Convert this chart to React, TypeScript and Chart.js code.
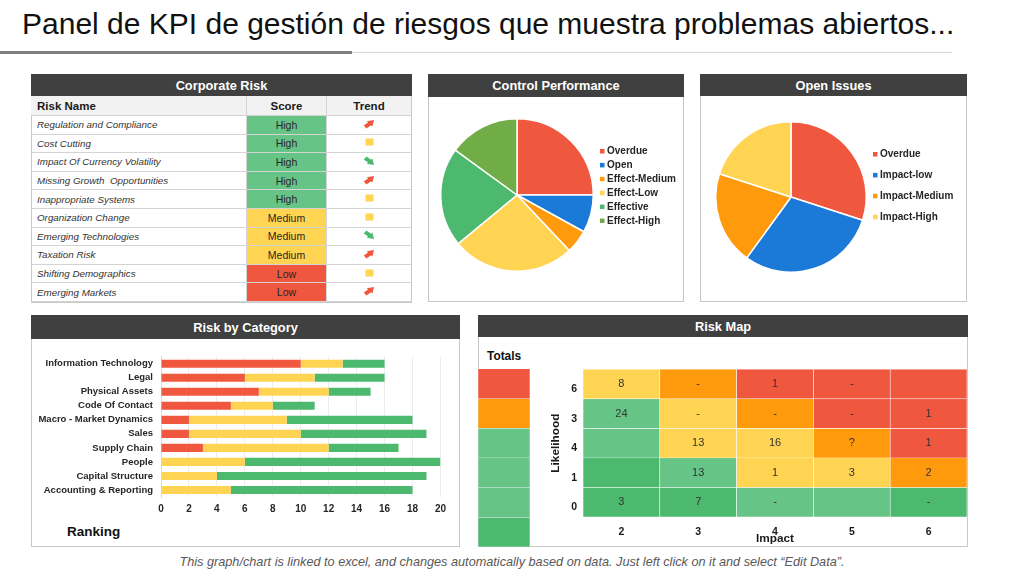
import React, { useEffect, useRef } from "react";
import { Chart, registerables } from "chart.js";

Chart.register(...registerables);

const FONT = '"Liberation Sans", Arial, sans-serif';
Chart.defaults.font.family = FONT;

const RED = "#F0573F";
const ORANGE = "#FF9A0D";
const YELLOW = "#FFD453";
const LGREEN = "#67C487";
const GREEN = "#4DB96F";
const BLUE = "#1B79D7";
const OLIVE = "#70AD47";

const LEVEL_COLOR: Record<string, string> = { r: RED, o: ORANGE, y: YELLOW, lg: LGREEN, g: GREEN };
const SCORE_COLOR: Record<string, string> = { High: LGREEN, Medium: YELLOW, Low: RED };

// ---------- Corporate Risk ----------
const riskNames = [
  "Regulation and Compliance",
  "Cost Cutting",
  "Impact Of Currency Volatility",
  "Missing Growth  Opportunities",
  "Inappropriate Systems",
  "Organization Change",
  "Emerging Technologies",
  "Taxation Risk",
  "Shifting Demographics",
  "Emerging Markets",
];
const riskScores = ["High", "High", "High", "High", "High", "Medium", "Medium", "Medium", "Low", "Low"];
const riskTrends = ["up", "flat", "down", "up", "flat", "flat", "down", "up", "flat", "up"];

// ---------- Control Performance ----------
const controlLabels = ["Overdue", "Open", "Effect-Medium", "Effect-Low", "Effective", "Effect-High"];
const controlValues = [25, 8, 5, 26, 21, 15];
const controlColors = [RED, BLUE, ORANGE, YELLOW, GREEN, OLIVE];

// ---------- Open Issues ----------
const issueLabels = ["Overdue", "Impact-low", "Impact-Medium", "Impact-High"];
const issueValues = [30, 30, 20, 20];
const issueColors = [RED, BLUE, ORANGE, YELLOW];

// ---------- Risk by Category ----------
const categories = [
  "Information Technology",
  "Legal",
  "Physical Assets",
  "Code Of Contact",
  "Macro - Market Dynamics",
  "Sales",
  "Supply Chain",
  "People",
  "Capital Structure",
  "Accounting & Reporting",
];
const highRisk = [10, 6, 7, 5, 2, 2, 3, 0, 0, 0];
const mediumRisk = [3, 5, 5, 3, 7, 8, 9, 6, 4, 5];
const lowRisk = [3, 5, 3, 3, 9, 9, 5, 14, 15, 13];
const rankingMax = 20;
const rankingStep = 2;

// ---------- Risk Map ----------
const impactLabels = ["2", "3", "4", "5", "6"];
const likelihoodLabels = ["6", "3", "4", "1", "0"]; // top to bottom
const mapValues = [
  ["8", "-", "1", "-", ""],
  ["24", "-", "-", "-", "1"],
  ["", "13", "16", "?", "1"],
  ["", "13", "1", "3", "2"],
  ["3", "7", "-", "", "-"],
];
const mapLevels = [
  ["y", "o", "r", "r", "r"],
  ["lg", "y", "o", "r", "r"],
  ["lg", "y", "y", "o", "r"],
  ["g", "lg", "y", "y", "o"],
  ["g", "g", "lg", "lg", "g"],
];
const totalsLevels = ["r", "o", "lg", "lg", "lg", "g"];

// ---------- helpers ----------
function useChart(ref: React.RefObject<HTMLCanvasElement | null>, make: () => any) {
  useEffect(() => {
    if (!ref.current) return;
    const c = new Chart(ref.current, make());
    return () => c.destroy();
  }, []);
}

const sideLegend = {
  id: "sideLegend",
  afterDraw(chart: any, _args: any, opts: any) {
    if (!opts || !opts.display) return;
    const ctx = chart.ctx;
    const labels = chart.data.labels as string[];
    const colors = chart.data.datasets[0].backgroundColor as string[];
    ctx.save();
    ctx.font = `bold ${opts.fontSize}px ${FONT}`;
    ctx.textBaseline = "middle";
    ctx.textAlign = "left";
    labels.forEach((l, i) => {
      const cy = opts.y + i * opts.gap;
      ctx.fillStyle = colors[i];
      ctx.fillRect(opts.x, cy - 2, 4.5, 4.5);
      ctx.fillStyle = "#262626";
      ctx.fillText(l, opts.x + 7, cy + 0.5);
    });
    ctx.restore();
  },
};

const cellTextPlugin = {
  id: "cellText",
  afterDatasetsDraw(chart: any) {
    const ctx = chart.ctx;
    chart.data.datasets.forEach((_ds: any, di: number) => {
      const meta = chart.getDatasetMeta(di);
      meta.data.forEach((el: any, i: number) => {
        const txt = mapValues[di][i];
        if (!txt) return;
        const { x, y, base } = el.getProps(["x", "y", "base"], true);
        ctx.save();
        ctx.font = `11px ${FONT}`;
        ctx.fillStyle = "#333333";
        ctx.textAlign = "center";
        ctx.textBaseline = "middle";
        ctx.fillText(txt, x, (y + base) / 2);
        ctx.restore();
      });
    });
  },
};

function Panel({ x, y, w, h, head, title }: any) {
  return (
    <>
      <div
        style={{
          position: "absolute",
          left: x,
          top: y,
          width: w,
          height: h,
          border: "1px solid #c8c8c8",
          boxSizing: "border-box",
          background: "#fff",
        }}
      />
      <div
        style={{
          position: "absolute",
          left: x,
          top: y,
          width: w,
          height: head,
          background: "#404040",
          color: "#fff",
          font: `bold 12.8px ${FONT}`,
          display: "flex",
          alignItems: "center",
          justifyContent: "center",
        }}
      >
        {title}
      </div>
    </>
  );
}

function TrendIcon({ t }: { t: string }) {
  if (t === "flat")
    return (
      <svg width="9" height="8" viewBox="0 0 9 8">
        <rect x="0.5" y="0.5" width="8" height="7" fill={YELLOW} />
      </svg>
    );
  const color = t === "up" ? RED : GREEN;
  const tr = t === "up" ? "" : "translate(0,10) scale(1,-1)";
  return (
    <svg width="12" height="10" viewBox="0 0 12 10">
      <g transform={tr}>
        <path d="M0.8 6.6 L5 3.6 L3.8 2.2 L11 1 L9.4 7.6 L8.1 6.2 L3.4 9.4 Z" fill={color} />
      </g>
    </svg>
  );
}

function CorporateTable() {
  const cols = [216, 80, 84];
  const cellBase: React.CSSProperties = {
    boxSizing: "border-box",
    borderRight: "1px solid #d4d4d4",
    borderBottom: "1px solid #d4d4d4",
    display: "flex",
    alignItems: "center",
  };
  return (
    <div style={{ position: "absolute", left: 31, top: 96, width: 380 }}>
      <div style={{ display: "flex", height: 20, background: "#f2f2f2" }}>
        {["Risk Name", "Score", "Trend"].map((h, i) => (
          <div
            key={h}
            style={{
              ...cellBase,
              width: cols[i],
              justifyContent: i === 0 ? "flex-start" : "center",
              paddingLeft: i === 0 ? 6 : 0,
              font: `bold 11.5px ${FONT}`,
              color: "#1a1a1a",
              borderRight: i === 2 ? "none" : cellBase.borderRight,
            }}
          >
            {h}
          </div>
        ))}
      </div>
      {riskNames.map((n, r) => (
        <div key={n} style={{ display: "flex", height: 18.6 }}>
          <div
            style={{
              ...cellBase,
              width: cols[0],
              paddingLeft: 6,
              font: `italic 9.8px ${FONT}`,
              color: "#333",
              whiteSpace: "pre",
            }}
          >
            {n}
          </div>
          <div
            style={{
              ...cellBase,
              width: cols[1],
              justifyContent: "center",
              background: SCORE_COLOR[riskScores[r]],
              font: `10.5px ${FONT}`,
              color: "#262626",
            }}
          >
            {riskScores[r]}
          </div>
          <div
            style={{
              ...cellBase,
              width: cols[2],
              justifyContent: "center",
              borderRight: "none",
              paddingBottom: 2,
            }}
          >
            <TrendIcon t={riskTrends[r]} />
          </div>
        </div>
      ))}
    </div>
  );
}

function Canvas({ cref, x, y, w, h }: any) {
  return (
    <canvas
      ref={cref}
      width={w}
      height={h}
      style={{ position: "absolute", left: x, top: y, width: w, height: h }}
    />
  );
}

export default function App() {
  const controlRef = useRef<HTMLCanvasElement>(null);
  const issuesRef = useRef<HTMLCanvasElement>(null);
  const barRef = useRef<HTMLCanvasElement>(null);
  const mapRef = useRef<HTMLCanvasElement>(null);
  const totalsRef = useRef<HTMLCanvasElement>(null);

  useChart(controlRef, () => ({
    type: "pie",
    data: {
      labels: controlLabels,
      datasets: [{ data: controlValues, backgroundColor: controlColors, borderColor: "#fff", borderWidth: 1.5 }],
    },
    options: {
      responsive: false,
      animation: false,
      layout: { padding: { left: 10, right: 89, top: 21, bottom: 30 } },
      plugins: {
        legend: { display: false },
        tooltip: { enabled: false },
        sideLegend: { display: true, x: 170, y: 54, gap: 13.9, fontSize: 10 },
      },
    },
    plugins: [sideLegend],
  }));

  useChart(issuesRef, () => ({
    type: "pie",
    data: {
      labels: issueLabels,
      datasets: [{ data: issueValues, backgroundColor: issueColors, borderColor: "#fff", borderWidth: 1.5 }],
    },
    options: {
      responsive: false,
      animation: false,
      layout: { padding: { left: 14, right: 100, top: 24, bottom: 29 } },
      plugins: {
        legend: { display: false },
        tooltip: { enabled: false },
        sideLegend: { display: true, x: 172, y: 57, gap: 20.9, fontSize: 10 },
      },
    },
    plugins: [sideLegend],
  }));

  useChart(barRef, () => ({
    type: "bar",
    data: {
      labels: categories,
      datasets: [
        { label: "High", data: highRisk, backgroundColor: RED },
        { label: "Medium", data: mediumRisk, backgroundColor: YELLOW },
        { label: "Low", data: lowRisk, backgroundColor: GREEN },
      ],
    },
    options: {
      indexAxis: "y",
      responsive: false,
      animation: false,
      layout: { padding: { top: 0, right: 10, left: 0, bottom: 0 } },
      datasets: { bar: { categoryPercentage: 1, barPercentage: 0.58 } },
      scales: {
        x: {
          stacked: true,
          min: 0,
          max: rankingMax,
          ticks: { stepSize: rankingStep, padding: 6, color: "#262626", font: { size: 10, weight: "bold" } },
          grid: { color: "#ececec", drawTicks: false },
          border: { display: false },
          afterFit: (s: any) => {
            s.height = 18;
          },
        },
        y: {
          stacked: true,
          ticks: { padding: 8, color: "#262626", font: { size: 9.5, weight: "bold" }, autoSkip: false },
          grid: { display: false, drawTicks: false },
          border: { display: true, color: "#d9d9d9" },
          afterFit: (s: any) => {
            s.width = 125;
          },
        },
      },
      plugins: { legend: { display: false }, tooltip: { enabled: false } },
    },
  }));

  useChart(mapRef, () => ({
    type: "bar",
    data: {
      labels: impactLabels,
      datasets: likelihoodLabels.map((lk, r) => ({
        label: lk,
        data: impactLabels.map(() => 1),
        backgroundColor: mapLevels[r].map((l) => LEVEL_COLOR[l]),
        borderColor: "rgba(255,255,255,0.85)",
        borderWidth: 0.6,
      })),
    },
    options: {
      responsive: false,
      animation: false,
      layout: { padding: { top: 0, right: 3, left: 0, bottom: 0 } },
      datasets: { bar: { categoryPercentage: 1, barPercentage: 1 } },
      scales: {
        x: {
          stacked: true,
          ticks: { padding: 9, color: "#1a1a1a", font: { size: 10.5, weight: "bold" } },
          grid: { display: false, drawTicks: false },
          border: { display: false },
          title: {
            display: true,
            text: "Impact",
            color: "#1a1a1a",
            font: { size: 11.8, weight: "bold" },
            padding: { top: 0, bottom: 4 },
          },
          afterFit: (s: any) => {
            s.height = 33;
          },
        },
        y: {
          stacked: true,
          reverse: true,
          min: 0,
          max: likelihoodLabels.length,
          afterBuildTicks: (s: any) => {
            s.ticks = likelihoodLabels.map((_l, i) => ({ value: i + 0.5 }));
          },
          ticks: {
            padding: 6,
            labelOffset: 5,
            color: "#1a1a1a",
            font: { size: 10.5, weight: "bold" },
            callback: (_v: any, i: number) => likelihoodLabels[i],
          },
          grid: { display: false, drawTicks: false },
          border: { display: false },
          title: {
            display: true,
            text: "Likelihood",
            color: "#1a1a1a",
            font: { size: 11.8, weight: "bold" },
            padding: { top: 4, bottom: 0 },
          },
          afterFit: (s: any) => {
            s.width = 38;
          },
        },
      },
      plugins: { legend: { display: false }, tooltip: { enabled: false } },
    },
    plugins: [cellTextPlugin],
  }));

  useChart(totalsRef, () => ({
    type: "bar",
    data: {
      labels: ["Totals"],
      datasets: totalsLevels.map((l, i) => ({
        label: "t" + i,
        data: [1],
        backgroundColor: LEVEL_COLOR[l],
        borderColor: "rgba(255,255,255,0.6)",
        borderWidth: 0.6,
      })),
    },
    options: {
      responsive: false,
      animation: false,
      layout: { padding: 0 },
      datasets: { bar: { categoryPercentage: 1, barPercentage: 1 } },
      scales: {
        x: { stacked: true, display: false },
        y: { stacked: true, display: false, reverse: true, min: 0, max: totalsLevels.length },
      },
      plugins: { legend: { display: false }, tooltip: { enabled: false } },
    },
  }));

  return (
    <div
      style={{
        position: "fixed",
        left: 0,
        top: 0,
        width: 1024,
        height: 576,
        background: "#fff",
        overflow: "hidden",
        fontFamily: FONT,
      }}
    >
      <div
        style={{
          position: "absolute",
          left: 22,
          top: 9,
          font: `30px ${FONT}`,
          lineHeight: "30px",
          color: "#111",
          whiteSpace: "nowrap",
        }}
      >
        Panel de KPI de gestión de riesgos que muestra problemas abiertos...
      </div>
      <div style={{ position: "absolute", left: 0, top: 51, width: 352, height: 3, background: "#7f7f7f" }} />
      <div style={{ position: "absolute", left: 352, top: 52, width: 600, height: 1, background: "#d9d9d9" }} />

      <Panel x={31} y={74} w={381} h={229} head={22} title="Corporate Risk" />
      <CorporateTable />

      <Panel x={428} y={74} w={256} h={228} head={23} title="Control Performance" />
      <Canvas cref={controlRef} x={430} y={97} w={253} h={205} />

      <Panel x={700} y={74} w={267} h={228} head={22} title="Open Issues" />
      <Canvas cref={issuesRef} x={701} y={97} w={266} h={205} />

      <Panel x={31} y={315} w={429} h={232} head={24} title="Risk by Category" />
      <Canvas cref={barRef} x={36} y={343} w={416} h={172} />
      <div
        style={{
          position: "absolute",
          left: 67,
          top: 524,
          font: `bold 13.5px ${FONT}`,
          color: "#111",
          lineHeight: "16px",
        }}
      >
        Ranking
      </div>

      <Panel x={478} y={315} w={490} h={232} head={22} title="Risk Map" />
      <div
        style={{
          position: "absolute",
          left: 487,
          top: 348,
          font: `bold 11.9px ${FONT}`,
          color: "#111",
          lineHeight: "16px",
        }}
      >
        Totals
      </div>
      <Canvas cref={totalsRef} x={478} y={369} w={52} h={178} />
      <Canvas cref={mapRef} x={545} y={357} w={425} h={193} />

      <div
        style={{
          position: "absolute",
          left: 0,
          width: 1024,
          top: 555,
          textAlign: "center",
          font: `italic 12.7px ${FONT}`,
          lineHeight: "14px",
          color: "#595959",
        }}
      >
        This graph/chart is linked to excel, and changes automatically based on data. Just left click on it and select “Edit Data”.
      </div>
    </div>
  );
}
